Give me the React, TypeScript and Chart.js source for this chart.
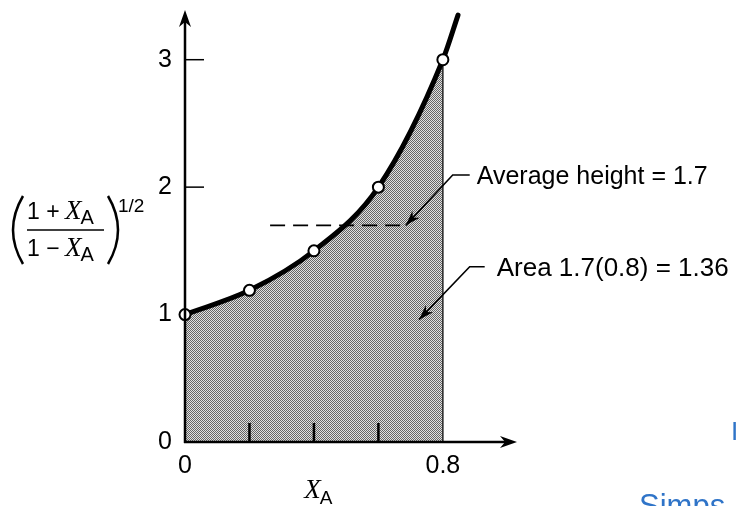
import { useEffect, useRef } from "react";
import { Chart, registerables } from "chart.js";

Chart.register(...registerables);

// ---- data ----
const curveX = [0, 0.2, 0.4, 0.6, 0.8, 0.847];
const curveY = [1, 1.19, 1.5, 2, 3, 3.35];
const markerX = [0, 0.2, 0.4, 0.6, 0.8];
const markerY = [1, 1.19, 1.5, 2, 3];
const averageHeight = 1.7;
const averageDashX = [0.264, 0.685];
const areaLimit = 0.8;
const yTickValues = [0, 1, 2, 3];
const xTickValues = [0, 0.8];
const yTickMarks = [2, 3];
const xTickMarks = [0.2, 0.4, 0.6];
const averageLabel = "Average height = 1.7";
const areaLabel = "Area 1.7(0.8) = 1.36";
const averageArrowTip = [0.685, 1.7];
const averageTextAt = [0.905, 2.08];
const areaArrowTip = [0.726, 0.96];
const areaTextAt = [0.967, 1.36];
const cornerTextTop = "I";
const cornerTextBottom = "Simps";

const SANS = "'Liberation Sans', Arial, sans-serif";
const SERIF = "'Liberation Serif', 'Times New Roman', serif";

function makePattern(): CanvasPattern | string {
  const c = document.createElement("canvas");
  c.width = 2;
  c.height = 2;
  const g = c.getContext("2d");
  if (!g) return "#a0a0a0";
  g.fillStyle = "#e0e0e0";
  g.fillRect(0, 0, 2, 2);
  g.fillStyle = "#656565";
  g.fillRect(0, 0, 1, 1);
  g.fillRect(1, 1, 1, 1);
  const p = g.createPattern(c, "repeat");
  return p || "#a0a0a0";
}

function arrowHead(ctx: CanvasRenderingContext2D, tipX: number, tipY: number, angle: number, len: number, half: number) {
  ctx.save();
  ctx.translate(tipX, tipY);
  ctx.rotate(angle);
  ctx.beginPath();
  ctx.moveTo(0, 0);
  ctx.lineTo(-len, -half);
  ctx.lineTo(-len * 0.7, 0);
  ctx.lineTo(-len, half);
  ctx.closePath();
  ctx.fillStyle = "#000";
  ctx.fill();
  ctx.restore();
}

const decorPlugin = {
  id: "decor",
  beforeDatasetsDraw(chart: any) {
    const ctx: CanvasRenderingContext2D = chart.ctx;
    const xs = chart.scales.x;
    const ys = chart.scales.y;
    const meta = chart.getDatasetMeta(0);
    const line = meta.dataset;
    if (!line) return;
    const { left, bottom } = chart.chartArea;
    const xEnd = xs.getPixelForValue(areaLimit);
    const y0 = ys.getPixelForValue(0);
    if (line.updateControlPoints) line.updateControlPoints(chart.chartArea, "x");
    ctx.save();
    ctx.beginPath();
    ctx.rect(left, 0, xEnd - left, bottom);
    ctx.clip();
    ctx.beginPath();
    line.path(ctx);
    const pts = line.points;
    ctx.lineTo(pts[pts.length - 1].x, y0);
    ctx.lineTo(pts[0].x, y0);
    ctx.closePath();
    ctx.fillStyle = chart.$fillPattern || "#a0a0a0";
    ctx.fill();
    ctx.restore();

    // right edge of shaded area
    ctx.save();
    ctx.strokeStyle = "#222";
    ctx.lineWidth = 1.5;
    ctx.beginPath();
    ctx.moveTo(xEnd, y0);
    ctx.lineTo(xEnd, ys.getPixelForValue(3));
    ctx.stroke();

    // x tick marks inside the area
    ctx.strokeStyle = "#000";
    ctx.lineWidth = 2.5;
    for (const v of xTickMarks) {
      const px = xs.getPixelForValue(v);
      ctx.beginPath();
      ctx.moveTo(px, y0);
      ctx.lineTo(px, y0 - 19);
      ctx.stroke();
    }
    ctx.restore();
  },
  afterDraw(chart: any) {
    const ctx: CanvasRenderingContext2D = chart.ctx;
    const xs = chart.scales.x;
    const ys = chart.scales.y;
    const { right, top } = chart.chartArea;
    const x0 = xs.getPixelForValue(0);
    const y0 = ys.getPixelForValue(0);
    ctx.save();
    // axes
    ctx.strokeStyle = "#000";
    ctx.lineWidth = 2.5;
    ctx.beginPath();
    ctx.moveTo(x0, y0 + 1);
    ctx.lineTo(x0, top + 8);
    ctx.stroke();
    ctx.beginPath();
    ctx.moveTo(x0 - 1, y0);
    ctx.lineTo(right - 8, y0);
    ctx.stroke();
    arrowHead(ctx, x0, top, -Math.PI / 2, 17, 6);
    arrowHead(ctx, right, y0, 0, 17, 6);

    // y tick marks to the right of axis
    ctx.lineWidth = 1.5;
    for (const v of yTickMarks) {
      const py = ys.getPixelForValue(v);
      ctx.beginPath();
      ctx.moveTo(x0, py);
      ctx.lineTo(x0 + 19, py);
      ctx.stroke();
    }

    // annotations
    ctx.fillStyle = "#000";
    ctx.textBaseline = "middle";
    ctx.textAlign = "left";
    const drawNote = (tip: number[], at: number[], text: string, size: number, elbow: number, run: number) => {
      const tx = xs.getPixelForValue(at[0]);
      const ty = ys.getPixelForValue(at[1]);
      const px = xs.getPixelForValue(tip[0]);
      const py = ys.getPixelForValue(tip[1]);
      ctx.font = `${size}px ${SANS}`;
      ctx.fillText(text, tx, ty);
      const ex = tx - elbow;
      ctx.lineWidth = 1.6;
      ctx.beginPath();
      ctx.moveTo(ex + run, ty - 2);
      ctx.lineTo(ex, ty - 2);
      ctx.lineTo(px, py);
      ctx.stroke();
      const ang = Math.atan2(py - (ty - 2), px - ex);
      arrowHead(ctx, px, py, ang, 15, 5);
    };
    drawNote(averageArrowTip, averageTextAt, averageLabel, 25, 24, 17);
    drawNote(areaArrowTip, areaTextAt, areaLabel, 26, 27, 15);

    // y axis title: ((1 + X_A)/(1 - X_A))^(1/2)
    const drawXA = (x: number, base: number, xSize: number, aSize: number, aDrop: number) => {
      ctx.font = `italic ${xSize}px ${SERIF}`;
      ctx.textBaseline = "alphabetic";
      ctx.fillText("X", x, base);
      const w = ctx.measureText("X").width;
      ctx.font = `${aSize}px ${SANS}`;
      ctx.fillText("A", x + w - 1, base + aDrop);
    };
    ctx.textAlign = "left";
    ctx.textBaseline = "alphabetic";
    ctx.font = `23px ${SANS}`;
    ctx.fillText("1 + ", 27, 219);
    drawXA(65, 219, 27, 20, 5);
    ctx.font = `23px ${SANS}`;
    ctx.fillText("1 \u2212 ", 27, 256);
    drawXA(65, 256, 27, 20, 5);
    ctx.lineWidth = 1.6;
    ctx.beginPath();
    ctx.moveTo(27, 230);
    ctx.lineTo(104, 230);
    ctx.stroke();
    ctx.lineWidth = 2.5;
    ctx.beginPath();
    ctx.moveTo(23, 196);
    ctx.quadraticCurveTo(3, 230, 23, 264);
    ctx.stroke();
    ctx.beginPath();
    ctx.moveTo(108, 196);
    ctx.quadraticCurveTo(128, 230, 108, 264);
    ctx.stroke();
    ctx.font = `19px ${SANS}`;
    ctx.fillText("1/2", 118, 212);

    // x axis title
    drawXA(xs.getPixelForValue(0.37), 498, 27, 19, 6);

    // stray page text visible at the edge of the clip
    ctx.fillStyle = "#2f74c8";
    ctx.font = `26px ${SANS}`;
    ctx.fillText(cornerTextTop, 731, 440);
    ctx.font = `31px ${SANS}`;
    ctx.fillText(cornerTextBottom, 639, 516);
    ctx.restore();
  },
};

export default function App() {
  const ref = useRef<HTMLCanvasElement | null>(null);
  useEffect(() => {
    const canvas = ref.current;
    if (!canvas) return;
    const curve = curveX.map((x, i) => ({ x, y: curveY[i] }));
    const markers = markerX.map((x, i) => ({ x, y: markerY[i] }));
    const dash = averageDashX.map((x) => ({ x, y: averageHeight }));
    const chart: any = new Chart(canvas, {
      type: "line",
      data: {
        datasets: [
          {
            data: curve,
            borderColor: "#000",
            borderWidth: 5,
            borderCapStyle: "round",
            cubicInterpolationMode: "monotone",
            pointRadius: 0,
            fill: false,
            clip: false,
            order: 2,
          } as any,
          {
            data: dash,
            borderColor: "#000",
            borderWidth: 1.8,
            borderDash: [15, 8],
            pointRadius: 0,
            fill: false,
            clip: false,
            order: 3,
          } as any,
          {
            data: markers,
            showLine: false,
            pointRadius: 5.5,
            pointBackgroundColor: "#fff",
            pointBorderColor: "#000",
            pointBorderWidth: 2,
            clip: false,
            order: 1,
          } as any,
        ],
      },
      options: {
        animation: false,
        responsive: true,
        maintainAspectRatio: false,
        layout: { padding: { top: 10, right: 222, left: 0, bottom: 0 } },
        plugins: { legend: { display: false }, tooltip: { enabled: false } },
        events: [],
        scales: {
          x: {
            type: "linear",
            min: 0,
            max: 1.03,
            grid: { display: false, drawTicks: false },
            border: { display: false },
            afterBuildTicks: (s: any) => {
              s.ticks = xTickValues.map((v) => ({ value: v }));
            },
            afterFit: (s: any) => {
              s.height = 64;
              s.paddingLeft = 0;
              s.paddingRight = 0;
            },
            ticks: {
              color: "#000",
              font: { family: SANS, size: 25 },
              padding: 9,
              maxRotation: 0,
              autoSkip: false,
              callback: (v: any) => String(v),
            },
          },
          y: {
            type: "linear",
            min: 0,
            max: 3.39,
            grid: { display: false, drawTicks: false },
            border: { display: false },
            afterBuildTicks: (s: any) => {
              s.ticks = yTickValues.map((v) => ({ value: v }));
            },
            afterFit: (s: any) => {
              s.width = 185;
              s.paddingTop = 0;
              s.paddingBottom = 0;
            },
            ticks: {
              color: "#000",
              font: { family: SANS, size: 25 },
              padding: 13,
              autoSkip: false,
              callback: (v: any) => String(v),
            },
          },
        },
      } as any,
      plugins: [decorPlugin as any],
    });
    chart.$fillPattern = makePattern();
    chart.draw();
    return () => chart.destroy();
  }, []);
  return (
    <div style={{ position: "fixed", left: 0, top: 0, width: 739, height: 506, overflow: "hidden", background: "#fff" }}>
      <canvas ref={ref} />
    </div>
  );
}
